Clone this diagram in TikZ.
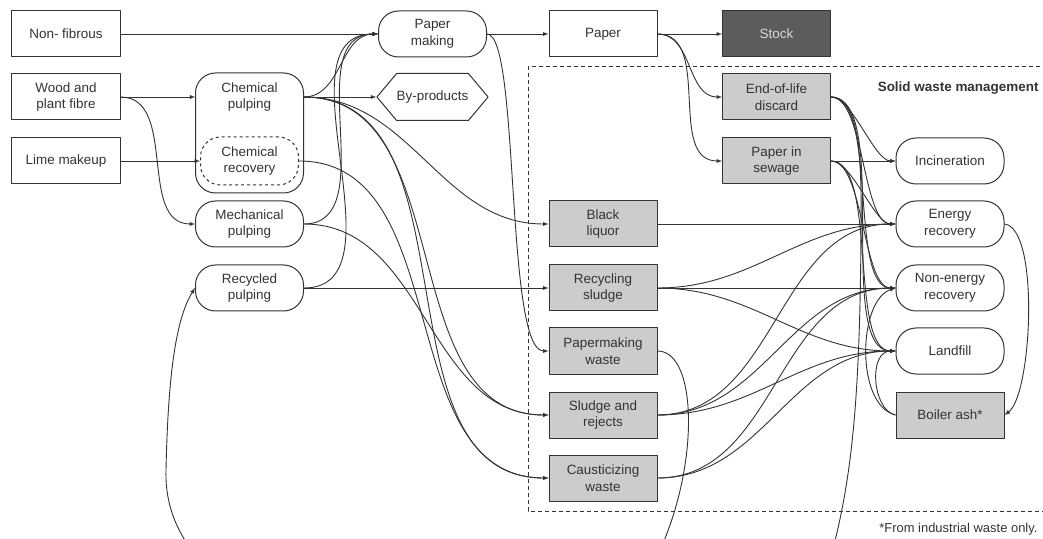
\documentclass[tikz,border=0pt]{standalone}
\usepackage{fontspec}
\setmainfont{Liberation Sans}
\usetikzlibrary{arrows,shapes.symbols}

\definecolor{linecol}{rgb}{0.2,0.2,0.2}
\definecolor{textcol}{rgb}{0.2,0.2,0.2}
\definecolor{wastefill}{rgb}{0.8,0.8,0.8}
\definecolor{stockfill}{rgb}{0.36,0.36,0.36}
\definecolor{stocktext}{rgb}{0.85,0.85,0.85}

\begin{document}
\begin{tikzpicture}[>=latex,line join=bevel,x=1bp,y=-1bp,
  every node/.style={font=\fontsize{13.5}{17}\selectfont,text=textcol,align=center},
  box/.style={draw=linecol,line width=1bp,minimum width=108bp,minimum height=46bp,inner sep=0pt},
  roundbox/.style={box,rounded corners=20bp},
  wastebox/.style={box,fill=wastefill},
  flow/.style={->,draw=linecol,line width=0.9bp,out=0,in=180},
  plain/.style={->,draw=linecol,line width=0.9bp}]
  \useasboundingbox (0,0) rectangle (1043,539);
  \clip (0,0) rectangle (1043,539);
%%
  % Solid waste management area
  \draw[linecol,line width=0.9bp,dash pattern=on 4bp off 3bp] (528,66) rectangle (1060,511);
  \node[anchor=east,font=\fontsize{13.5}{17}\selectfont\bfseries] (swm) at (1042,88) {Solid waste management};
  \node[anchor=east,font=\fontsize{13}{16}\selectfont] (note) at (1041,529) {*From industrial waste only.};
%%
  % Node: inputs
  \node[box] (nonfib) at (66,34) {Non- fibrous};
  \node[box] (wood) at (66,97) {Wood and\\plant fibre};
  \node[box] (lime) at (66,161) {Lime makeup};
  % Node: pulping
  \node[roundbox,minimum height=120bp] (chemgrp) at (249.5,133) {};
  \node[minimum width=108bp,minimum height=46bp,inner sep=0pt] (chempulp) at (249.5,97) {Chemical\\pulping};
  \node[roundbox,dashed,minimum width=98bp,minimum height=48bp] (chemrec) at (249.5,161) {Chemical\\recovery};
  \node[roundbox] (mechpulp) at (249.5,224) {Mechanical\\pulping};
  \node[roundbox] (recpulp) at (249.5,288) {Recycled\\pulping};
  % Node: products
  \node[roundbox] (papmak) at (432.5,34) {Paper\\making};
  \node[draw=linecol,line width=1bp,signal,signal to=west and east,signal pointer angle=100,
        minimum width=109bp,minimum height=47bp,inner sep=0pt] (byprod) at (432.5,97) {By-products};
  \node[box] (paper) at (603,34) {Paper};
  \node[box,fill=stockfill,text=stocktext] (stock) at (776.5,34) {Stock};
  % Node: waste streams
  \node[wastebox] (eol) at (776.5,97) {End-of-life\\discard};
  \node[wastebox] (sewage) at (776.5,161) {Paper in\\sewage};
  \node[wastebox] (blackliq) at (603,224) {Black\\liquor};
  \node[wastebox] (recsludge) at (603,288) {Recycling\\sludge};
  \node[wastebox] (pmwaste) at (603,351) {Papermaking\\waste};
  \node[wastebox] (sludge) at (603,415) {Sludge and\\rejects};
  \node[wastebox] (caustic) at (603,478) {Causticizing\\waste};
  % Node: destinations
  \node[roundbox] (incin) at (950,161) {Incineration};
  \node[roundbox] (energy) at (950,224) {Energy\\recovery};
  \node[roundbox] (nonenergy) at (950,288) {Non-energy\\recovery};
  \node[roundbox] (landfill) at (950,351) {Landfill};
  \node[wastebox] (ash) at (950,415) {Boiler ash*};
%%
  % Edge: inputs -> pulping
  \draw[plain] (nonfib.east) -- (papmak.west);
  \draw[plain] (wood.east) -- (chempulp.west);
  \draw[flow] (wood.east) to (mechpulp.west);
  \draw[plain] (lime.east) -- (chemrec.west);
  % Edge: pulping -> paper making
  \draw[flow] (chempulp.east) to (papmak.west);
  \draw[flow] (mechpulp.east) to (papmak.west);
  \draw[flow] (recpulp.east) to (papmak.west);
  \draw[plain] (chempulp.east) -- (byprod.west);
  % Edge: pulping -> waste streams
  \draw[flow] (chempulp.east) to (blackliq.west);
  \draw[flow] (chempulp.east) to (sludge.west);
  \draw[flow] (chempulp.east) to (caustic.west);
  \draw[flow] (chemrec.east) to (caustic.west);
  \draw[flow] (mechpulp.east) to (sludge.west);
  \draw[plain] (recpulp.east) -- (recsludge.west);
  % Edge: paper making -> paper
  \draw[plain] (papmak.east) -- (paper.west);
  \draw[plain] (papmak.east) .. controls (520,34) and (505,351) .. (pmwaste.west);
  \draw[plain] (paper.east) -- (stock.west);
  \draw[flow] (paper.east) to (eol.west);
  \draw[flow] (paper.east) to (sewage.west);
  % Edge: end-of-life discard -> destinations
  \draw[flow,looseness=0.6] (eol.east) to (incin.west);
  \draw[flow,looseness=0.6] (eol.east) to (energy.west);
  \draw[flow,looseness=0.6] (eol.east) to (nonenergy.west);
  \draw[flow,looseness=0.6] (eol.east) to (landfill.west);
  % Edge: paper in sewage -> destinations
  \draw[plain] (sewage.east) -- (incin.west);
  \draw[flow,looseness=0.6] (sewage.east) to (energy.west);
  \draw[flow,looseness=0.6] (sewage.east) to (nonenergy.west);
  \draw[flow,looseness=0.6] (sewage.east) to (landfill.west);
  % Edge: mill waste -> destinations
  \draw[plain] (blackliq.east) -- (energy.west);
  \draw[flow] (recsludge.east) to (energy.west);
  \draw[plain] (recsludge.east) -- (nonenergy.west);
  \draw[flow] (recsludge.east) to (landfill.west);
  \draw[flow] (sludge.east) to (energy.west);
  \draw[flow] (sludge.east) to (nonenergy.west);
  \draw[flow] (sludge.east) to (landfill.west);
  \draw[flow] (caustic.east) to (nonenergy.west);
  \draw[flow] (caustic.east) to (landfill.west);
  % Edge: boiler ash
  \draw[plain] (energy.east) .. controls (1040,228) and (1032,395) .. (ash.east);
  \draw[plain] (ash.west) .. controls (872,410) and (868,351) .. (landfill.west);
  \draw[plain] (ash.west) .. controls (855,405) and (858,300) .. (nonenergy.west);
  % Edge: recycling loops (run below the frame)
  \coordinate (backloop) at (600,640);
  \draw[plain] (pmwaste.east) .. controls (700,351) and (700,480) .. (650,570)
    .. controls (560,700) and (160,660) .. (166,470) .. controls (168,380) and (175,320) .. (recpulp.west);
  \draw[linecol,line width=0.9bp] (eol.east) .. controls (858,97) and (862,150) .. (861,230)
    .. controls (860,400) and (852,480) .. (830,560) -- (backloop);
%
\end{tikzpicture}
\end{document}
